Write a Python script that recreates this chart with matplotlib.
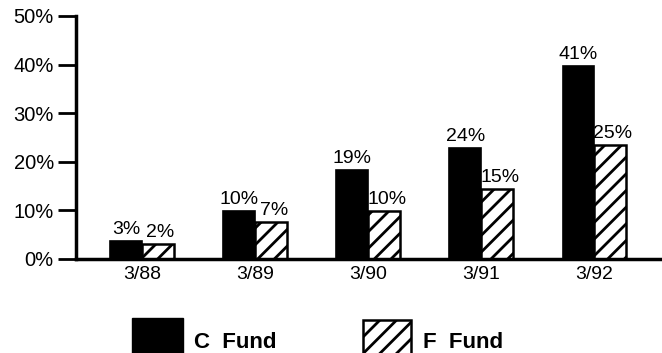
import numpy as np
import matplotlib
matplotlib.use("Agg")
from matplotlib import pyplot as plt
from matplotlib.patches import Rectangle

# data
periods = ["3/88", "3/89", "3/90", "3/91", "3/92"]
c_fund = [3.8, 9.9, 18.3, 22.8, 39.7]      # bar heights as drawn
f_fund = [3.1, 7.6, 9.9, 14.4, 23.5]
c_labels = ["3%", "10%", "19%", "24%", "41%"]
f_labels = ["2%", "7%", "10%", "15%", "25%"]
y_ticks = [0, 10, 20, 30, 40, 50]

plt.rcParams['font.family'] = ['Liberation Sans', 'DejaVu Sans']
plt.rcParams['hatch.linewidth'] = 2.0
plt.rcParams['hatch.color'] = 'black'

W, H = 662, 353
fig = plt.figure(figsize=(W / 100, H / 100), dpi=100)
ax = fig.add_axes([76 / W, 1 - 259 / H, 1 - 76 / W, (259 - 16) / H])

x = np.arange(len(periods))
w = 0.28
ax.bar(x - w / 2, c_fund, w, color='black', edgecolor='black', linewidth=1.2)
ax.bar(x + w / 2, f_fund, w, color='white', edgecolor='black',
       linewidth=1.8, hatch='//')

for i in range(len(periods)):
    ax.annotate(c_labels[i], (x[i] - w / 2, c_fund[i]), xytext=(0, 2),
                textcoords='offset points', ha='center', va='bottom', fontsize=14)
    ax.annotate(f_labels[i], (x[i] + w / 2, f_fund[i]), xytext=(2, 2),
                textcoords='offset points', ha='center', va='bottom', fontsize=14)

ax.set_xlim(-0.584, 4.60)
ax.set_ylim(0, 50)
ax.set_yticks(y_ticks)
ax.set_yticklabels([f"{t}%" for t in y_ticks], fontsize=14.5)
ax.set_xticks(x)
ax.set_xticklabels(periods, fontsize=14)
ax.tick_params(axis='y', direction='out', length=13, width=2, pad=3)
ax.tick_params(axis='x', length=0, pad=5)

for s in ['top', 'right']:
    ax.spines[s].set_visible(False)
ax.spines['left'].set_linewidth(2.5)
ax.spines['bottom'].set_linewidth(2.5)

# legend
fig.patches.append(Rectangle((132 / W, -0.02), 51 / W, 35 / H + 0.02,
                             transform=fig.transFigure, facecolor='black',
                             edgecolor='black'))
fig.patches.append(Rectangle((363 / W, -0.02), 48 / W, 33 / H + 0.02,
                             transform=fig.transFigure, facecolor='white',
                             edgecolor='black', linewidth=1.8, hatch='//'))
fig.text(194 / W, 1 - 343 / H, "C  Fund", fontsize=16, fontweight='bold',
         ha='left', va='center')
fig.text(423 / W, 1 - 343 / H, "F  Fund", fontsize=16, fontweight='bold',
         ha='left', va='center')

fig.savefig("out.png", dpi=100)
